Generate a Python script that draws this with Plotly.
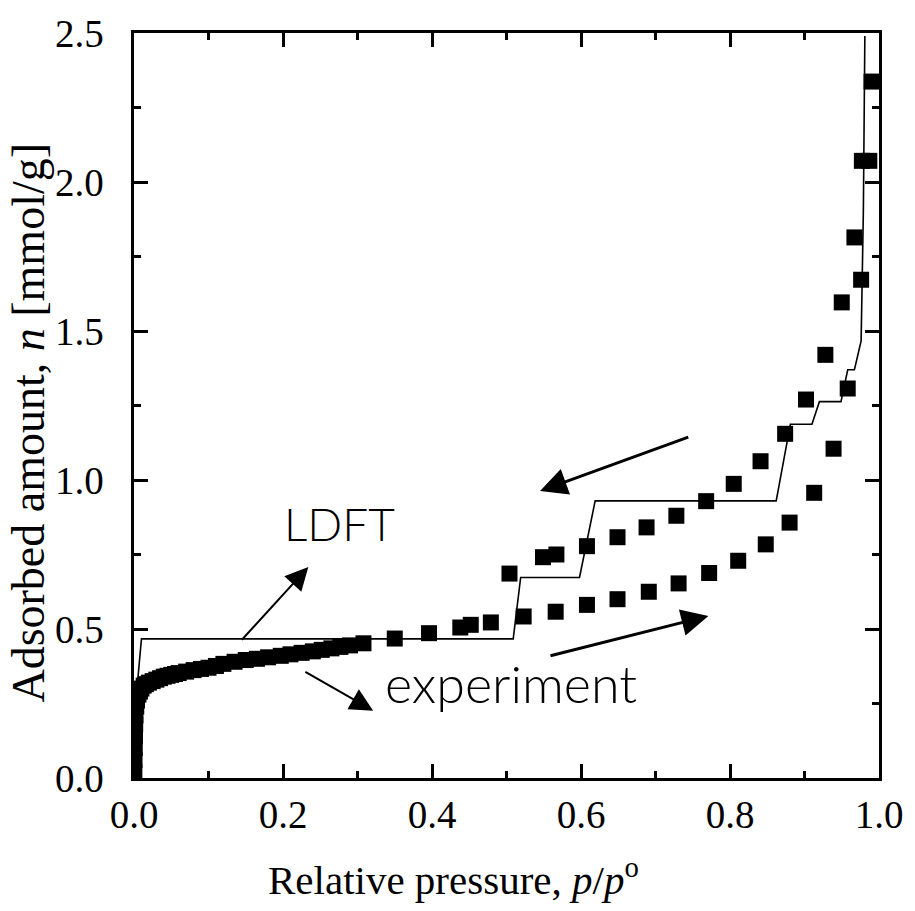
import plotly.graph_objects as go

# LDFT isotherm (line)
ldft_x = [0.002, 0.004, 0.010, 0.509, 0.519, 0.598, 0.619, 0.862, 0.881, 0.910,
          0.920, 0.949, 0.958, 0.967, 0.976, 0.979, 0.981]
ldft_y = [0.000, 0.300, 0.467, 0.467, 0.673, 0.673, 0.930, 0.930, 1.187, 1.187,
          1.263, 1.263, 1.370, 1.370, 1.467, 1.900, 2.490]

# experiment - adsorption branch
ads_x = [0.0005, 0.0007, 0.001, 0.0013, 0.0016, 0.002, 0.003, 0.004, 0.006, 0.008,
         0.010, 0.013, 0.016, 0.020, 0.025, 0.030, 0.035, 0.040, 0.045, 0.050,
         0.055, 0.060, 0.070, 0.080, 0.090, 0.100, 0.110, 0.120, 0.135, 0.150,
         0.165, 0.180, 0.197, 0.210, 0.225, 0.240, 0.252, 0.265, 0.277, 0.290,
         0.308, 0.350, 0.396, 0.438, 0.452, 0.479, 0.523, 0.566, 0.608, 0.649,
         0.691, 0.731, 0.772, 0.811, 0.848, 0.880, 0.913, 0.939, 0.958, 0.976,
         0.987, 0.990]
ads_y = [0.02, 0.06, 0.10, 0.14, 0.18, 0.21, 0.24, 0.26, 0.28, 0.29,
         0.30, 0.31, 0.315, 0.32, 0.325, 0.33, 0.335, 0.34, 0.343, 0.346,
         0.349, 0.352, 0.357, 0.362, 0.366, 0.370, 0.376, 0.383, 0.390, 0.396,
         0.400, 0.405, 0.410, 0.415, 0.420, 0.425, 0.430, 0.435, 0.440, 0.445,
         0.452, 0.468, 0.486, 0.505, 0.514, 0.522, 0.542, 0.558, 0.581, 0.600,
         0.625, 0.653, 0.688, 0.729, 0.784, 0.857, 0.957, 1.105, 1.307, 1.672,
         2.071, 2.337]

# experiment - desorption branch
des_x = [0.977, 0.967, 0.950, 0.928, 0.902, 0.874, 0.841, 0.805, 0.768, 0.728,
         0.688, 0.649, 0.608, 0.567, 0.549, 0.504]
des_y = [2.071, 1.814, 1.596, 1.420, 1.270, 1.155, 1.063, 0.987, 0.929, 0.880,
         0.841, 0.808, 0.778, 0.750, 0.741, 0.686]

x_ticks = [0.0, 0.2, 0.4, 0.6, 0.8, 1.0]
y_ticks = [0.0, 0.5, 1.0, 1.5, 2.0, 2.5]
x_ticktext = ["0.0", "0.2", "0.4", "0.6", "0.8", "1.0"]
y_ticktext = [t + "&nbsp;&nbsp;" for t in ["0.0", "0.5", "1.0", "1.5", "2.0", "2.5"]]

serif = "Liberation Serif, Times New Roman, serif"
sans = "Lato"

fig = go.Figure()
fig.add_trace(go.Scatter(x=ads_x, y=ads_y, mode="markers", name="adsorption",
                         marker=dict(symbol="square", size=16, color="black", line=dict(width=0))))
fig.add_trace(go.Scatter(x=des_x, y=des_y, mode="markers", name="desorption",
                         marker=dict(symbol="square", size=16, color="black", line=dict(width=0))))
fig.add_trace(go.Scatter(x=ldft_x, y=ldft_y, mode="lines", name="LDFT",
                         line=dict(color="black", width=1.6)))

fig.update_layout(
    width=915, height=911, showlegend=False,
    paper_bgcolor="white", plot_bgcolor="white",
    margin=dict(l=134, r=30, t=26, b=133),
    font=dict(family=serif, size=38, color="black"),
    xaxis=dict(
        range=[0, 1], tickmode="array", tickvals=x_ticks, ticktext=x_ticktext,
        showline=True, linecolor="black", linewidth=3, mirror="allticks",
        ticks="inside", ticklen=14, tickwidth=3, tickcolor="black",
        showgrid=False, zeroline=False,
        tickfont=dict(family=serif, size=39, color="black"),
        minor=dict(ticks="inside", ticklen=7, tickwidth=3, tickcolor="black",
                   tickvals=[0.1, 0.3, 0.5, 0.7, 0.9], showgrid=False),
    ),
    yaxis=dict(
        range=[0, 2.5], tickmode="array", tickvals=y_ticks, ticktext=y_ticktext,
        showline=True, linecolor="black", linewidth=3, mirror="allticks",
        ticks="inside", ticklen=14, tickwidth=3, tickcolor="black",
        showgrid=False, zeroline=False,
        tickfont=dict(family=serif, size=39, color="black"),
        minor=dict(ticks="inside", ticklen=7, tickwidth=3, tickcolor="black",
                   tickvals=[0.25, 0.75, 1.25, 1.75, 2.25], showgrid=False),
    ),
)

# axis titles
fig.add_annotation(x=0.429, y=-0.133, xref="paper", yref="paper", showarrow=False,
                   xanchor="center", yanchor="middle",
                   text="Relative pressure, <i>p</i>/<i>p</i><sup>o</sup>",
                   font=dict(family=serif, size=41, color="black"))
fig.add_annotation(x=-0.141, y=0.477, xref="paper", yref="paper", showarrow=False,
                   xanchor="center", yanchor="middle",
                   textangle=-90, text="Adsorbed amount, <i>n</i> [mmol/g]",
                   font=dict(family=serif, size=46, color="black"))

arrow = dict(showarrow=True, arrowhead=2, arrowcolor="black", xref="x", yref="y",
             axref="x", ayref="y", text="")
fig.add_annotation(x=0.234, y=0.708, ax=0.143, ay=0.459, arrowwidth=2, arrowsize=2.3, **arrow)
fig.add_annotation(x=0.321, y=0.226, ax=0.228, ay=0.359, arrowwidth=2, arrowsize=2.3, **arrow)
fig.add_annotation(x=0.545, y=0.963, ax=0.746, ay=1.146, arrowwidth=3, arrowsize=1.8, **arrow)
fig.add_annotation(x=0.771, y=0.544, ax=0.557, ay=0.409, arrowwidth=3, arrowsize=1.8, **arrow)

fig.add_annotation(x=0.276, y=0.855, xref="x", yref="y", text="LDFT", showarrow=False,
                   font=dict(family=sans, size=46, color="black", weight=300))
fig.add_annotation(x=0.334, y=0.32, xref="x", yref="y", text="experiment", showarrow=False,
                   xanchor="left", font=dict(family=sans, size=52, color="black", weight=300))

fig.write_html("out.html")
